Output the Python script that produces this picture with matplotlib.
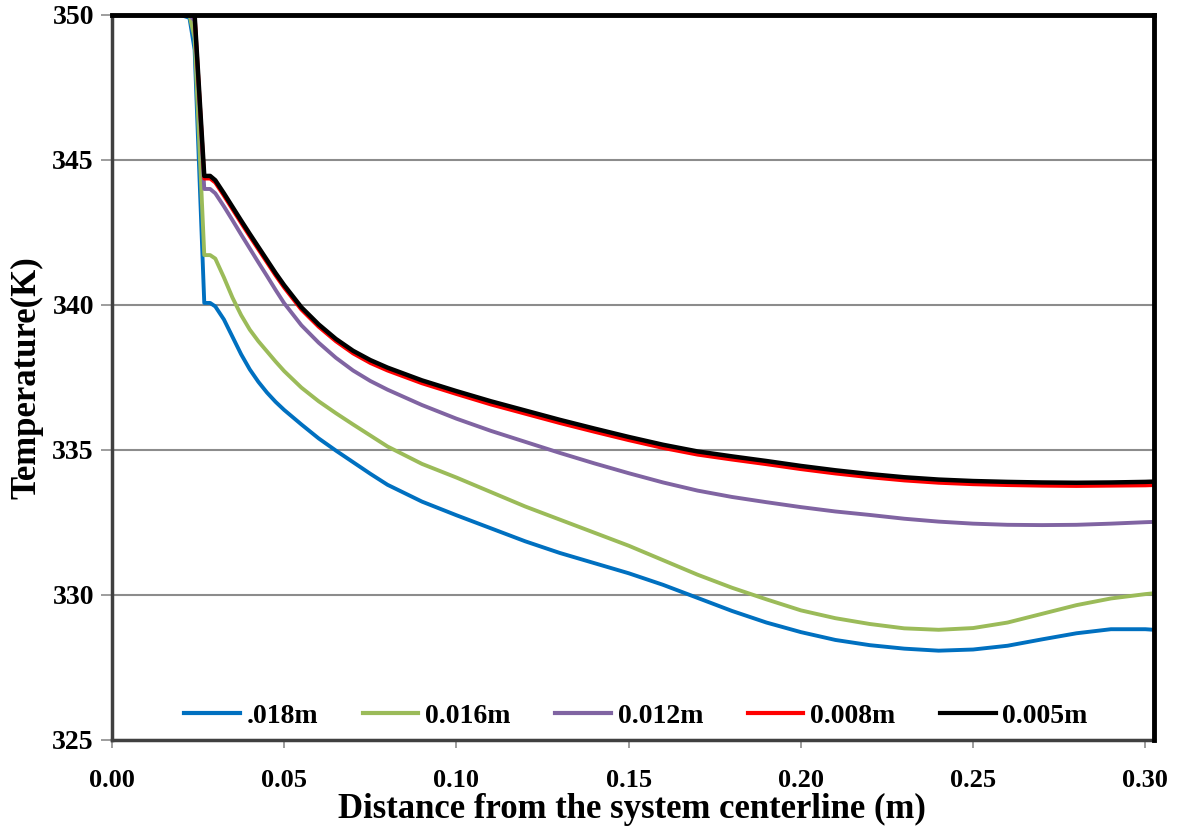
import matplotlib
matplotlib.use("Agg")
import matplotlib.pyplot as plt

plt.rcParams['font.family'] = ['Liberation Serif', 'DejaVu Serif']
plt.rcParams['font.weight'] = 'bold'

# Radial distance from the centerline (m), shared by every series
distance = [0.000, 0.010, 0.020, 0.0225, 0.0240, 0.0268, 0.0285, 0.030,
            0.0325, 0.035, 0.0375, 0.040, 0.0425, 0.045, 0.0475, 0.050,
            0.055, 0.060, 0.065, 0.070, 0.075, 0.080, 0.090, 0.100,
            0.110, 0.120, 0.130, 0.140, 0.150, 0.160, 0.170, 0.180, 0.190,
            0.200, 0.210, 0.220, 0.230, 0.240, 0.250, 0.260, 0.270, 0.280,
            0.290, 0.300, 0.3025]

# Temperature profiles (K) for each particle diameter
t_018 = [350.0, 350.0, 350.0, 349.9, 348.8, 340.07, 340.07, 339.95,
         339.5, 338.9, 338.3, 337.78, 337.35, 336.98, 336.66, 336.38,
         335.88, 335.4, 334.98, 334.58, 334.18, 333.8, 333.22, 332.75,
         332.3, 331.85, 331.45, 331.1, 330.75, 330.35, 329.9, 329.45, 329.05,
         328.72, 328.45, 328.27, 328.15, 328.08, 328.12, 328.25, 328.47, 328.68,
         328.82, 328.82, 328.8]
t_016 = [350.0, 350.0, 350.0, 350.0, 349.2, 341.72, 341.72, 341.6,
         340.95, 340.25, 339.65, 339.15, 338.75, 338.4, 338.05, 337.72,
         337.15, 336.68, 336.27, 335.88, 335.5, 335.12, 334.52, 334.05,
         333.55, 333.05, 332.6, 332.15, 331.7, 331.2, 330.7, 330.25, 329.85,
         329.47, 329.2, 329.0, 328.85, 328.8, 328.86, 329.05, 329.35, 329.65,
         329.88, 330.03, 330.06]
t_012 = [350.0, 350.0, 350.0, 350.0, 349.8, 344.0, 344.0, 343.85,
         343.4, 342.92, 342.43, 341.95, 341.47, 341.0, 340.52, 340.06,
         339.3, 338.7, 338.18, 337.74, 337.38, 337.08, 336.55, 336.08,
         335.66, 335.28, 334.9, 334.54, 334.2, 333.88, 333.6, 333.38, 333.2,
         333.03, 332.88, 332.76, 332.63, 332.53, 332.46, 332.42, 332.41, 332.42,
         332.46, 332.51, 332.52]
t_008 = [350.0, 350.0, 350.0, 350.0, 350.0, 344.36, 344.36, 344.22,
         343.77, 343.3, 342.83, 342.37, 341.92, 341.47, 341.02, 340.6,
         339.84, 339.25, 338.75, 338.33, 338.0, 337.74, 337.3, 336.93,
         336.57, 336.25, 335.93, 335.63, 335.34, 335.07, 334.84, 334.67, 334.51,
         334.34, 334.19, 334.06, 333.95, 333.87, 333.82, 333.79, 333.77, 333.76,
         333.77, 333.78, 333.79]
t_005 = [350.0, 350.0, 350.0, 350.0, 350.0, 344.45, 344.45, 344.3,
         343.85, 343.38, 342.91, 342.45, 342.0, 341.55, 341.1, 340.68,
         339.92, 339.33, 338.83, 338.42, 338.1, 337.84, 337.4, 337.03,
         336.68, 336.36, 336.04, 335.74, 335.45, 335.18, 334.95, 334.78, 334.62,
         334.45, 334.3, 334.17, 334.06, 333.98, 333.93, 333.9, 333.88, 333.87,
         333.88, 333.9, 333.91]

labels = ['.018m', '0.016m', '0.012m', '0.008m', '0.005m']
colors = ['#0070C0', '#9BBB59', '#8064A2', '#FF0000', '#000000']
widths = [2.8, 2.8, 2.8, 2.8, 3.2]
series = [t_018, t_016, t_012, t_008, t_005]

x_ticks = [0.00, 0.05, 0.10, 0.15, 0.20, 0.25, 0.30]
x_ticklabels = ['0.00', '0.05', '0.10', '0.15', '0.20', '0.25', '0.30']
y_ticks = [325, 330, 335, 340, 345, 350]
y_ticklabels = ['325', '330', '335', '340', '345', '350']

fig = plt.figure(figsize=(11.81, 8.27), dpi=100)
ax = fig.add_axes([0.0948, 0.1052, 0.8823, 0.8767])

for y, c, w, lab in zip(series, colors, widths, labels):
    ax.plot(distance, y, color=c, lw=w, label=lab, solid_joinstyle='round',
            zorder=3)

ax.set_xlim(0, 0.3025)
ax.set_ylim(325, 350)
ax.set_xticks(x_ticks)
ax.set_xticklabels(x_ticklabels)
ax.set_yticks(y_ticks)
ax.set_yticklabels(y_ticklabels)

ax.grid(axis='y', color='#8c8c8c', lw=1.5, zorder=1)
ax.set_axisbelow(True)

ax.tick_params(axis='y', direction='out', length=8, width=1.2, color='#8c8c8c',
               pad=5, labelsize=20)
ax.tick_params(axis='x', direction='out', length=6, width=1.2, color='#8c8c8c',
               pad=15, labelsize=19)
for t in ax.get_xticklabels() + ax.get_yticklabels():
    t.set_fontweight('bold')

for side in ('top', 'right'):
    ax.spines[side].set_linewidth(3.5)
    ax.spines[side].set_color('black')
    ax.spines[side].set_zorder(5)
for side in ('left', 'bottom'):
    ax.spines[side].set_linewidth(2.5)
    ax.spines[side].set_color('#404040')

ax.set_xlabel('Distance from the system centerline (m)', fontsize=25,
              fontweight='bold', va='baseline')
ax.xaxis.set_label_coords(0.4995, -0.1075)
ax.set_ylabel('Temperature(K)', fontsize=25, fontweight='bold', va='center')
ax.yaxis.set_label_coords(-0.082, 0.5)

leg = ax.legend(loc='center', bbox_to_anchor=(0.503, 0.033), ncol=5,
                frameon=False, prop={'size': 20, 'weight': 'bold'},
                handlelength=2.0, handletextpad=0.25, columnspacing=1.6,
                borderaxespad=0)
for h in leg.get_lines():
    h.set_linewidth(3.0)

fig.savefig('out.png', dpi=100, facecolor='white')
